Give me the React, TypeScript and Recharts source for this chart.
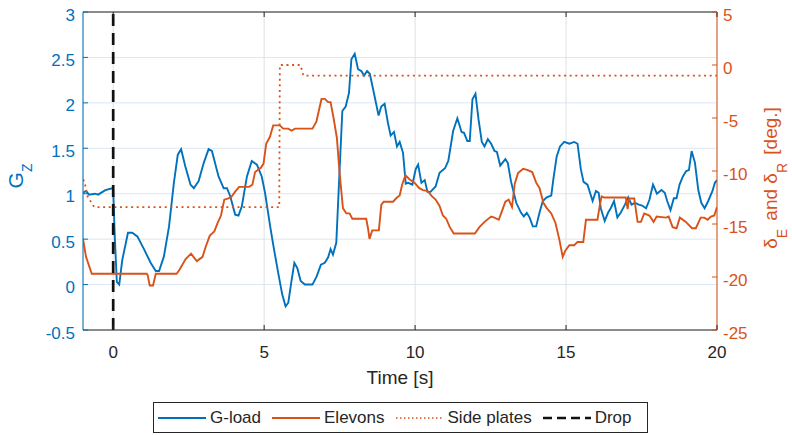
import React from "react";
import { LineChart, Line, XAxis, YAxis, CartesianGrid } from "recharts";

const BLUE = "#0072BD";
const ORANGE = "#D95319";
const DARK = "#262626";
const FONT = '"Liberation Sans", Arial, Helvetica, sans-serif';

// x / y axis ticks
const timeTicks = [0, 5, 10, 15, 20];
const gTicks = [-0.5, 0, 0.5, 1, 1.5, 2, 2.5, 3];
const degTicks = [-25, -20, -15, -10, -5, 0, 5];

// G-load (left axis)
const gTime = [
  -1.0, -0.9, -0.8, -0.6, -0.5, -0.26, -0.04, 0.0, 0.05, 0.12, 0.2, 0.3, 0.49, 0.63, 0.8, 1.02,
  1.24, 1.41, 1.52, 1.68, 1.85, 2.01, 2.14, 2.25, 2.39, 2.56, 2.67, 2.83, 3.0, 3.16, 3.27, 3.49,
  3.66, 3.77, 3.88, 4.04, 4.15, 4.26, 4.43, 4.59, 4.76, 4.92, 5.03, 5.2, 5.31, 5.47, 5.6, 5.71,
  5.8, 5.91, 6.0, 6.1, 6.21, 6.35, 6.6, 6.74, 6.88, 7.01, 7.12, 7.2, 7.28, 7.39, 7.48, 7.59,
  7.7, 7.81, 7.89, 8.0, 8.11, 8.22, 8.31, 8.41, 8.5, 8.66, 8.79, 8.88, 8.99, 9.1, 9.19, 9.3,
  9.4, 9.49, 9.6, 9.69, 9.77, 9.91, 10.02, 10.1, 10.21, 10.32, 10.41, 10.51, 10.68, 10.81, 10.99, 11.1,
  11.26, 11.4, 11.54, 11.62, 11.73, 11.81, 11.9, 12.0, 12.1, 12.21, 12.3, 12.41, 12.52, 12.63, 12.71, 12.82,
  12.99, 13.07, 13.18, 13.35, 13.51, 13.6, 13.7, 13.79, 13.9, 14.01, 14.12, 14.23, 14.36, 14.51, 14.58, 14.69,
  14.8, 14.94, 15.11, 15.27, 15.38, 15.49, 15.58, 15.71, 15.88, 15.99, 16.08, 16.15, 16.28, 16.39, 16.48, 16.59,
  16.7, 16.81, 16.95, 17.06, 17.17, 17.28, 17.41, 17.52, 17.65, 17.76, 17.88, 18.01, 18.16, 18.27, 18.35, 18.46,
  18.57, 18.66, 18.76, 18.87, 18.98, 19.07, 19.16, 19.27, 19.38, 19.48, 19.59, 19.71, 19.85, 19.93, 20.0,
];
const gLoad = [
  1.01, 1.03, 0.99, 1.0, 0.99, 1.04, 1.06, 1.05, 0.55, 0.03, 0.0, 0.27, 0.57, 0.57, 0.53, 0.39,
  0.24, 0.15, 0.15, 0.31, 0.64, 1.12, 1.43, 1.49, 1.3, 1.1, 1.06, 1.14, 1.34, 1.49, 1.47, 1.19,
  1.06, 1.06, 0.97, 0.77, 0.76, 0.86, 1.19, 1.36, 1.32, 1.19, 1.01, 0.64, 0.42, 0.12, -0.11, -0.24,
  -0.2, 0.05, 0.24, 0.18, 0.04, 0.0, 0.0, 0.09, 0.22, 0.24, 0.3, 0.39, 0.33, 0.46, 1.12, 1.91,
  1.96, 2.11, 2.48, 2.54, 2.37, 2.35, 2.3, 2.35, 2.32, 2.07, 1.86, 1.96, 1.99, 1.78, 1.64, 1.68,
  1.52, 1.57, 1.45, 1.11, 1.12, 1.1, 1.27, 1.32, 1.12, 1.15, 1.02, 1.02, 1.08, 1.23, 1.28, 1.36,
  1.69, 1.83, 1.68, 1.67, 1.58, 1.58, 2.04, 2.1, 1.82, 1.57, 1.52, 1.6, 1.55, 1.47, 1.46, 1.31,
  1.38, 1.34, 1.13, 0.9, 0.79, 0.75, 0.79, 0.74, 0.64, 0.64, 0.79, 0.92, 0.96, 0.98, 1.16, 1.41,
  1.52, 1.57, 1.55, 1.57, 1.55, 1.27, 1.13, 1.1, 0.92, 1.03, 1.01, 0.84, 0.7, 0.79, 0.84, 0.92,
  0.74, 0.79, 0.88, 0.96, 0.88, 0.9, 0.88, 0.87, 0.84, 0.93, 1.1, 1.0, 1.04, 1.01, 0.92, 0.82,
  0.95, 0.95, 1.1, 1.19, 1.25, 1.26, 1.47, 1.34, 1.04, 0.9, 0.84, 0.92, 1.03, 1.12, 1.15,
];

// Elevon deflection (right axis)
const elevTime = [
  -1.0, -0.9, -0.71, 1.11, 1.14, 1.21, 1.32, 1.41, 2.1, 2.2, 2.4, 2.58, 2.77, 2.96, 3.07, 3.2,
  3.35, 3.46, 3.57, 3.68, 3.79, 3.9, 4.04, 4.17, 4.5, 4.61, 4.7, 4.89, 4.98, 5.07, 5.19, 5.3,
  5.52, 5.63, 5.8, 5.91, 6.02, 6.6, 6.73, 6.9, 7.01, 7.12, 7.2, 7.3, 7.41, 7.5, 7.61, 7.72,
  7.83, 7.92, 8.38, 8.44, 8.49, 8.58, 8.8, 8.88, 8.96, 9.27, 9.4, 9.49, 9.57, 9.68, 9.82, 9.98,
  10.13, 10.26, 10.42, 10.56, 10.68, 10.81, 10.92, 11.03, 11.15, 11.28, 11.98, 12.13, 12.3, 12.52, 12.63, 12.77,
  12.85, 12.99, 13.1, 13.21, 13.3, 13.41, 13.58, 13.71, 13.88, 14.01, 14.12, 14.25, 14.36, 14.51, 14.65, 14.78,
  14.89, 14.98, 15.11, 15.27, 15.38, 15.57, 15.66, 16.04, 16.12, 16.18, 16.26, 16.98, 17.04, 17.09, 17.26, 17.37,
  17.48, 17.59, 17.76, 17.9, 18.0, 18.31, 18.4, 18.53, 18.66, 18.77, 18.97, 19.17, 19.3, 19.46, 19.58, 19.69,
  19.8, 19.91, 20.0,
];
const elevons = [
  -16.4, -18.1, -19.7, -19.7, -19.8, -20.8, -20.8, -19.7, -19.7, -19.3, -18.3, -17.8, -18.5, -18.1, -17.1, -16.1,
  -15.7, -14.9, -14.2, -12.7, -12.6, -12.5, -11.95, -11.5, -11.5, -11.3, -10.1, -9.7, -9.3, -7.4, -6.8, -5.7,
  -5.7, -6.0, -6.0, -6.2, -6.0, -6.0, -5.35, -3.2, -3.2, -3.5, -3.5, -5.0, -6.9, -10.2, -13.5, -14.0,
  -14.0, -14.5, -14.5, -15.4, -16.4, -15.6, -15.6, -13.2, -12.9, -12.9, -12.5, -12.3, -11.3, -10.4, -10.8, -11.1,
  -11.6, -11.8, -11.9, -12.4, -12.7, -13.3, -14.2, -14.5, -15.3, -15.9, -15.9, -15.3, -14.8, -14.3, -14.4, -14.6,
  -14.0, -12.9, -12.7, -13.4, -11.2, -10.2, -9.8, -9.9, -10.1, -11.1, -11.6, -13.0, -13.5, -14.0, -14.9, -16.5,
  -18.1, -17.5, -17.0, -17.0, -16.7, -16.7, -14.6, -14.6, -13.2, -12.4, -12.5, -12.5, -13.6, -12.6, -12.6, -14.8,
  -14.8, -14.0, -14.2, -14.8, -14.3, -14.4, -14.3, -15.3, -15.4, -14.4, -14.8, -15.4, -15.4, -14.4, -14.4, -14.6,
  -14.3, -14.2, -13.4,
];

// Side plate deflection (right axis)
const sideTime = [-1.0, -0.95, -0.85, -0.63, 5.5, 5.52, 6.2, 6.3, 20.0];
const sidePlates = [-10.8, -11.0, -12.4, -13.4, -13.4, 0.0, 0.0, -1.0, -1.0];

// Drop instant (left axis)
const dropTime = [0, 0];
const dropLine = [-0.5, 3];

const toPoints = (ts: number[], vs: number[]) => ts.map((t, i) => ({ t, v: vs[i] }));

const gData = toPoints(gTime, gLoad);
const elevData = toPoints(elevTime, elevons);
const sideData = toPoints(sideTime, sidePlates);
const dropData = toPoints(dropTime, dropLine);

const legendItems = [
  { name: "G-load", color: BLUE, width: 1.8, dash: undefined as string | undefined },
  { name: "Elevons", color: ORANGE, width: 1.8, dash: undefined },
  { name: "Side plates", color: ORANGE, width: 1.5, dash: "1.5 2.5" },
  { name: "Drop", color: "#111111", width: 2.5, dash: "9 5" },
];

const LeftTick = ({ x, y, payload }: any) => (
  <g>
    <line x1={x} x2={x + 5} y1={y} y2={y} stroke={BLUE} />
    <text x={x - 8} y={y} dy="0.5em" textAnchor="end" fill={BLUE} fontSize={17} fontFamily={FONT}>
      {payload.value}
    </text>
  </g>
);

const RightTick = ({ x, y, payload }: any) => (
  <g>
    <line x1={x} x2={x - 5} y1={y} y2={y} stroke={ORANGE} />
    <text x={x + 6} y={y} dy="0.5em" textAnchor="start" fill={ORANGE} fontSize={17} fontFamily={FONT}>
      {payload.value}
    </text>
  </g>
);

const BottomTick = ({ x, y, payload }: any) => (
  <g>
    <line x1={x} x2={x} y1={y} y2={y - 5} stroke={DARK} />
    <text x={x} y={y + 28} textAnchor="middle" fill={DARK} fontSize={17} fontFamily={FONT}>
      {payload.value}
    </text>
  </g>
);

const TopTick = ({ x, y }: any) => <line x1={x} x2={x} y1={y} y2={y + 5} stroke={DARK} />;

const TimeLabel = () => (
  <text x={400} y={384} textAnchor="middle" fill={DARK} fontSize={19} fontFamily={FONT}>
    Time [s]
  </text>
);

const GzLabel = () => (
  <text
    x={23}
    y={176}
    transform="rotate(-90, 23, 176)"
    textAnchor="middle"
    fill={BLUE}
    fontSize={21}
    fontFamily={FONT}
  >
    G
    <tspan fontSize={14} dy={9}>
      Z
    </tspan>
  </text>
);

const DegLabel = () => (
  <text
    x={777}
    y={178}
    transform="rotate(-90, 777, 178)"
    textAnchor="middle"
    fill={ORANGE}
    fontSize={19}
    fontFamily={FONT}
  >
    δ
    <tspan fontSize={14} dy={10}>
      E
    </tspan>
    <tspan dy={-10} dx={3}>
      {" and δ"}
    </tspan>
    <tspan fontSize={14} dy={10}>
      R
    </tspan>
    <tspan dy={-10} dx={3}>
      {" [deg.]"}
    </tspan>
  </text>
);

const ChartLegend = () => (
  <div
    style={{
      position: "absolute",
      left: 153,
      top: 402,
      width: 495,
      height: 31,
      boxSizing: "border-box",
      border: `1px solid ${DARK}`,
      background: "#fff",
      display: "flex",
      alignItems: "center",
      paddingLeft: 4,
      gap: 11,
      fontFamily: FONT,
      fontSize: 17,
      color: DARK,
    }}
  >
    {legendItems.map((item) => (
      <div key={item.name} style={{ display: "flex", alignItems: "center", gap: 4 }}>
        <svg width={48} height={10}>
          <line
            x1={0}
            x2={48}
            y1={5}
            y2={5}
            stroke={item.color}
            strokeWidth={item.width}
            strokeDasharray={item.dash}
          />
        </svg>
        <span>{item.name}</span>
      </div>
    ))}
  </div>
);

export default function App() {
  return (
    <div style={{ position: "absolute", left: 0, top: 0, width: 792, height: 435, background: "#fff" }}>
      <LineChart width={792} height={435} margin={{ top: 0, right: 0, bottom: 47, left: 0 }}>
        <CartesianGrid xAxisId="bottom" yAxisId="left" vertical={false} stroke="#dce7f2" />
        <CartesianGrid xAxisId="bottom" yAxisId="left" horizontal={false} stroke="#e0e0e0" />
        <XAxis
          xAxisId="bottom"
          type="number"
          dataKey="t"
          domain={[-1, 20]}
          ticks={timeTicks}
          allowDataOverflow
          height={58}
          tickSize={0}
          tickMargin={0}
          tickLine={false}
          tick={<BottomTick />}
          axisLine={{ stroke: DARK }}
          label={<TimeLabel />}
        />
        <XAxis
          xAxisId="top"
          orientation="top"
          type="number"
          dataKey="t"
          domain={[-1, 20]}
          ticks={timeTicks}
          allowDataOverflow
          height={12}
          tickSize={0}
          tickMargin={0}
          tickLine={false}
          tick={<TopTick />}
          axisLine={{ stroke: DARK }}
        />
        <YAxis
          yAxisId="left"
          domain={[-0.5, 3]}
          ticks={gTicks}
          allowDataOverflow
          width={83}
          tickSize={0}
          tickMargin={0}
          tickLine={false}
          tick={<LeftTick />}
          axisLine={{ stroke: BLUE }}
          label={<GzLabel />}
        />
        <YAxis
          yAxisId="right"
          orientation="right"
          domain={[-25, 5]}
          ticks={degTicks}
          allowDataOverflow
          width={75}
          tickSize={0}
          tickMargin={0}
          tickLine={false}
          tick={<RightTick />}
          axisLine={{ stroke: ORANGE }}
          label={<DegLabel />}
        />
        <Line
          data={gData}
          dataKey="v"
          xAxisId="bottom"
          yAxisId="left"
          type="linear"
          stroke={BLUE}
          strokeWidth={1.9}
          dot={false}
          isAnimationActive={false}
        />
        <Line
          data={elevData}
          dataKey="v"
          xAxisId="bottom"
          yAxisId="right"
          type="linear"
          stroke={ORANGE}
          strokeWidth={1.9}
          dot={false}
          isAnimationActive={false}
        />
        <Line
          data={sideData}
          dataKey="v"
          xAxisId="bottom"
          yAxisId="right"
          type="linear"
          stroke={ORANGE}
          strokeWidth={1.8}
          strokeDasharray="2 3.6"
          dot={false}
          isAnimationActive={false}
        />
        <Line
          data={dropData}
          dataKey="v"
          xAxisId="bottom"
          yAxisId="left"
          type="linear"
          stroke="#111111"
          strokeWidth={2.7}
          strokeDasharray="12 7"
          dot={false}
          isAnimationActive={false}
        />
      </LineChart>
      <ChartLegend />
    </div>
  );
}
